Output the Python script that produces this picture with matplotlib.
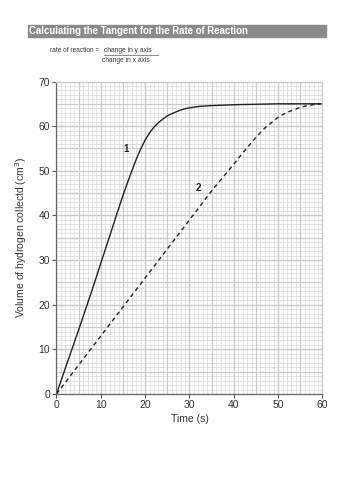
import matplotlib.pyplot as plt
import matplotlib.patches as patches
import numpy as np
from matplotlib.ticker import MultipleLocator

# curve 1 (fast reaction)
t1 = [0, 2, 4, 6, 8, 10, 12, 14, 15, 16, 17, 18, 19, 20, 21, 22, 23, 24, 25, 26,
      27, 28, 29, 30, 32, 35, 40, 45, 50, 55, 60]
v1 = [0, 5.8, 11.5, 17.3, 23.2, 29.3, 35.4, 41.5, 44.5, 47.3, 50.0, 52.6, 54.9, 56.9,
      58.5, 59.8, 60.8, 61.6, 62.3, 62.8, 63.2, 63.6, 63.9, 64.1, 64.4, 64.6, 64.8,
      64.9, 65, 65, 65]

# curve 2 (slow reaction)
t2 = [0, 5, 10, 15, 20, 25, 30, 35, 40, 42, 45, 47, 50, 52, 55, 57, 59.5]
v2 = [0, 6.5, 13, 19.5, 26, 32.5, 39, 45.5, 51.5, 54.0, 57.5, 59.6, 62.0, 63.1, 64.2,
      64.7, 65]

xticks = [0, 10, 20, 30, 40, 50, 60]
yticks = [0, 10, 20, 30, 40, 50, 60, 70]

plt.rcParams['font.family'] = ['Liberation Sans', 'DejaVu Sans']

fig = plt.figure(figsize=(3.54, 5.0), dpi=100)
ax = fig.add_axes([0.1596, 0.212, 0.7514, 0.625])

ax.plot(t1, v1, color='#222222', linewidth=1.0)
ax.plot(t2, v2, color='#222222', linewidth=1.0, linestyle=(0, (3, 2.5)))

ax.text(15.7, 54.9, '1', fontsize=7, fontweight='bold', ha='center', va='center', color='#222222')
ax.text(32, 46.1, '2', fontsize=7, fontweight='bold', ha='center', va='center', color='#222222')

ax.set_xlim(0, 60)
ax.set_ylim(0, 70)
ax.set_xticks(xticks)
ax.set_yticks(yticks)
ax.xaxis.set_minor_locator(MultipleLocator(1))
ax.yaxis.set_minor_locator(MultipleLocator(1))
ax.grid(True, which='minor', color='#dedede', linewidth=0.6)
ax.grid(True, which='major', color='#cccccc', linewidth=0.9)
# major grid every 5 as on graph paper
for x in np.arange(5, 60, 5):
    ax.axvline(x, color='#cccccc', linewidth=0.9, zorder=0.9)
for y in np.arange(5, 70, 5):
    ax.axhline(y, color='#cccccc', linewidth=0.9, zorder=0.9)
ax.set_axisbelow(True)

ax.tick_params(which='minor', length=0)
ax.tick_params(which='major', length=3, width=0.8, color='#555555', labelsize=7.5,
               labelcolor='#333333', pad=1.5)
for s in ['left', 'bottom']:
    ax.spines[s].set_color('#666666')
    ax.spines[s].set_linewidth(0.9)
for s in ['top', 'right']:
    ax.spines[s].set_color('#cccccc')
    ax.spines[s].set_linewidth(0.9)

ax.set_xlabel('Time (s)', fontsize=7.5, color='#333333', labelpad=3)
ax.set_ylabel('Volume of hydrogen collectd (cm$^3$)', fontsize=7.5, color='#333333', labelpad=7)

# title bar
fig.patches.append(patches.Rectangle((28/354, 1 - 37/500), 298/354, 12/500,
                                     transform=fig.transFigure, color='#8a8a8a', zorder=0))
fig.text(29/354, 1 - 31/500, 'Calculating the Tangent for the Rate of Reaction',
         fontsize=6.9, fontweight='bold', color='white',
         ha='left', va='center')

# rate of reaction formula
fig.text(50/354, 1 - 51/500, 'rate of reaction =', fontsize=4.7, color='#333333',
         ha='left', va='center')
fig.text(104/354, 1 - 51/500, 'change in y axis', fontsize=4.8, color='#333333',
         ha='left', va='center')
fig.add_artist(plt.Line2D([104/354, 158/354], [1 - 54.5/500, 1 - 54.5/500],
                          transform=fig.transFigure, color='#333333', linewidth=0.4))
fig.text(102/354, 1 - 60/500, 'change in x axis', fontsize=4.8, color='#333333',
         ha='left', va='center')

fig.savefig('out.png', dpi=100)
